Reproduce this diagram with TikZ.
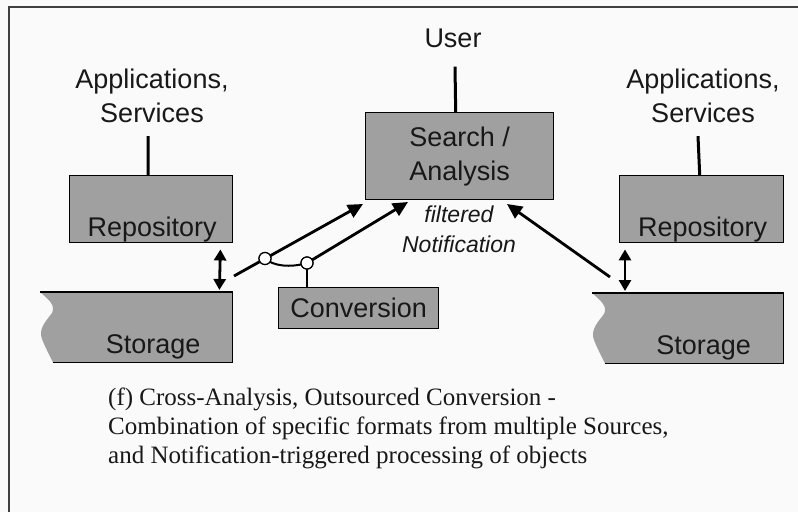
\documentclass[tikz,border=0pt]{standalone}
\usepackage{fontspec}
\setmainfont{Liberation Serif}
\setsansfont{Liberation Sans}
\usetikzlibrary{arrows.meta}
\definecolor{boxgray}{RGB}{160,160,160}
\definecolor{framegray}{RGB}{64,64,64}
\definecolor{inkgray}{RGB}{24,24,24}

% storage block: gray body with a torn left edge; only top, right and bottom are outlined
\newcommand\storageblock[1]{%
  \fill[boxgray] (#1.north east) -- (#1.north west)
    .. controls ([shift={(8,7)}]#1.north west) and ([shift={(16,13)}]#1.north west) .. ([shift={(12,21)}]#1.north west)
    .. controls ([shift={(6,29)}]#1.north west) and ([shift={(-2,37)}]#1.north west) .. ([shift={(2,47)}]#1.north west)
    .. controls ([shift={(5,55)}]#1.north west) and ([shift={(10,64)}]#1.north west) .. ([shift={(13,0)}]#1.south west)
    -- (#1.south east) -- cycle;
  \draw[line width=1.4pt] (#1.north west) -- (#1.north east) -- (#1.south east) -- ([shift={(13,0)}]#1.south west);
}

\begin{document}
\begin{tikzpicture}[x=1pt,y=-1pt,
  box/.style={draw=black, line width=1.4pt, fill=boxgray, inner sep=0pt, anchor=north west},
  area/.style={inner sep=0pt, anchor=north west},
  lbl/.style={font=\sffamily\fontsize{27}{34}\selectfont, text=inkgray, align=center, inner sep=0pt},
  note/.style={font=\sffamily\itshape\fontsize{23}{30}\selectfont, text=inkgray, align=center, inner sep=0pt},
  caption/.style={font=\fontsize{25}{29}\selectfont, text=inkgray, anchor=base west, inner sep=0pt},
  conn/.style={draw=black, line width=3pt},
  thinline/.style={draw=black, line width=1.4pt},
  flow/.style={draw=black, line width=2.8pt, -{Triangle[length=15pt,width=14pt]}},
  dbl/.style={draw=black, line width=2.8pt, {Triangle[length=11pt,width=12pt]}-{Triangle[length=11pt,width=12pt]}},
  joint/.style={circle, draw=black, fill=white, line width=1.2pt, minimum size=12pt, inner sep=0pt},
]
\useasboundingbox (0,0) rectangle (798,512);
\fill[white!98!black] (0,0) rectangle (798,512);
\draw[framegray, line width=1.6pt] (9,512) -- (9,7) -- (798,7);

% ---- left source ----
\node[lbl] (lapp) at (152,96) {Applications,\\Services};
\node[box, minimum width=163, minimum height=67] (lrepo) at (69,175) {};
\node[lbl, anchor=base] (lrepotxt) at ([shift={(1,-7)}]lrepo.south) {Repository};
\node[area, minimum width=192, minimum height=70] (lstor) at (40,292) {};
\storageblock{lstor}
\node[lbl, anchor=base] (lstortxt) at ([shift={(17,-9)}]lstor.south) {Storage};
\draw[conn] ([shift={(-4,13)}]lapp.south) -- ([shift={(-3,0)}]lrepo.north);
\draw[dbl] ([shift={(-13,6)}]lrepo.south east) -- ([shift={(-13,-2)}]lstor.north east);

% ---- right source ----
\node[lbl] (rapp) at (703,96) {Applications,\\Services};
\node[box, minimum width=164, minimum height=67] (rrepo) at (619,175) {};
\node[lbl, anchor=base] (rrepotxt) at ([shift={(1,-7)}]rrepo.south) {Repository};
\node[area, minimum width=191, minimum height=70] (rstor) at (592,293) {};
\storageblock{rstor}
\node[lbl, anchor=base] (rstortxt) at ([shift={(16,-9)}]rstor.south) {Storage};
\draw[conn] ([shift={(-5,13)}]rapp.south) -- ([shift={(-2,0)}]rrepo.north);
\draw[dbl] ([shift={(6,6)}]rrepo.south west) -- ([shift={(33,-2)}]rstor.north west);

% ---- search / analysis ----
\node[lbl] (user) at (453,38) {User};
\node[box, minimum width=188, minimum height=87] (search) at (365,112) {};
\node[lbl] (searchtxt) at (search.center) {Search /\\Analysis};
\draw[conn] ([shift={(-4,0)}]search.north) -- ([shift={(2,19)}]user.south);
\node[note] (notif) at (459,229) {filtered\\Notification};

% ---- conversion ----
\node[box, minimum width=160, minimum height=41] (conv) at (278,287) {};
\node[lbl] (convtxt) at (conv.center) {Conversion};

% ---- flows ----
\coordinate (lsrc) at (234,276);
\coordinate (tip1) at (363,204);
\coordinate (tip2) at (408,202);
\coordinate (rsrc) at (610,277);
\coordinate (tip3) at (507,204);
\node[joint] (j1) at (265,258.5) {};
\node[joint] (j2) at (307,263) {};

\draw[flow] (lsrc) -- (tip1);
\draw[black, line width=2pt] (j1.center) .. controls (273,266) and (290,268) .. (j2.center);
\draw[flow] (j2.center) -- (tip2);
\draw[flow] (rsrc) -- (tip3);
\draw[thinline] (j2.center) -- (j2 |- conv.north);
\node[joint] at (j1) {};
\node[joint] at (j2) {};

% ---- caption ----
\node[caption] (cap1) at (108,405) {(f) Cross-Analysis, Outsourced Conversion -};
\node[caption] (cap2) at (108,434) {Combination of specific formats from multiple Sources,};
\node[caption] (cap3) at (108,463) {and Notification-triggered processing of objects};
\end{tikzpicture}
\end{document}
